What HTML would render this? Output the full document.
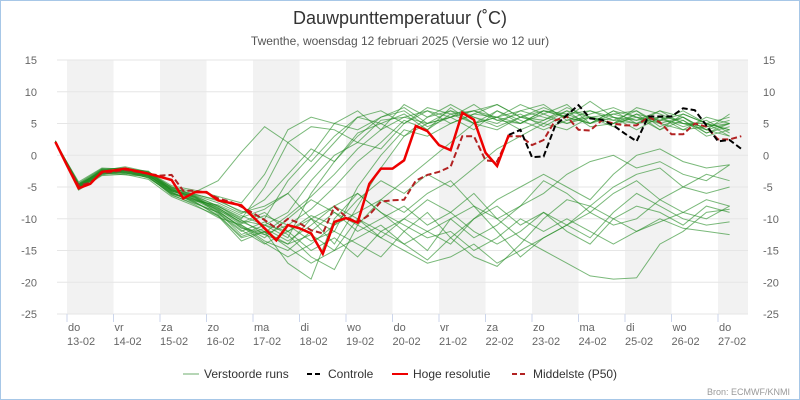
<!DOCTYPE html>
<html><head><meta charset="utf-8"><style>
body{margin:0;background:#fff}
svg{display:block;font-family:"Liberation Sans",sans-serif}
</style></head><body>
<svg id="chart" width="800" height="400" xmlns="http://www.w3.org/2000/svg">
<rect x="0.5" y="0.5" width="799" height="399" fill="#fff" stroke="#a7c7e7"/>
<text x="400" y="24" text-anchor="middle" font-size="18" fill="#333">Dauwpunttemperatuur (˚C)</text>
<text x="400" y="45" text-anchor="middle" font-size="12" fill="#555">Twenthe, woensdag 12 februari 2025 (Versie wo 12 uur)</text>
<g id="bands"></g><g id="grid"></g><g id="axes"></g><g id="series"></g>
<g id="legend">
<g><line x1="183" y1="374" x2="199" y2="374" stroke="#2e8b2e" stroke-opacity="0.7"/><text x="204" y="378" font-size="12" fill="#333">Verstoorde runs</text></g>
<g><line x1="307" y1="374" x2="323" y2="374" stroke="#000" stroke-width="2" stroke-dasharray="5,3"/><text x="328" y="378" font-size="12" fill="#333">Controle</text></g>
<g><line x1="392" y1="374" x2="408" y2="374" stroke="#e00" stroke-width="2"/><text x="413" y="378" font-size="12" fill="#333">Hoge resolutie</text></g>
<g><line x1="512" y1="374" x2="528" y2="374" stroke="#b22222" stroke-width="2" stroke-dasharray="5,3"/><text x="533" y="378" font-size="12" fill="#333">Middelste (P50)</text></g>
</g>
<text x="790" y="395" text-anchor="end" font-size="9" fill="#999">Bron: ECMWF/KNMI</text>
</svg>
<script>
const dayNames=["do","vr","za","zo","ma","di","wo","do","vr","za","zo","ma","di","wo","do"];
const dayDates=["13-02","14-02","15-02","16-02","17-02","18-02","19-02","20-02","21-02","22-02","23-02","24-02","25-02","26-02","27-02"];
const yTicks=[15,10,5,0,-5,-10,-15,-20,-25];
const hiresStartHour=-6, hiresStepHours=6;
const hires=[2.1,-1.6,-5.2,-4.5,-2.6,-2.4,-2.1,-2.5,-2.9,-3.4,-3.9,-6.8,-5.8,-5.8,-7.1,-7.5,-7.9,-9.7,-11.5,-13.4,-11.0,-11.5,-12.3,-15.5,-10.5,-9.9,-10.6,-4.5,-2.1,-2.1,-0.8,4.6,3.8,1.6,0.8,6.7,5.6,0.4,-1.7,3.2];
const control=[null,null,null,null,null,null,null,null,null,null,null,null,null,null,null,null,null,null,null,null,null,null,null,null,null,null,null,null,null,null,null,null,null,null,null,null,null,null,null,3.2,4.0,-0.3,-0.2,4.7,6.3,7.9,5.8,5.6,4.7,3.4,2.2,6.1,6.1,6.1,7.4,7.1,4.7,2.2,2.4,1.0];
const p50=[2.1,-1.5,-4.8,-4.3,-2.8,-2.6,-2.3,-2.6,-2.9,-3.2,-3.1,-5.6,-5.6,-5.9,-6.8,-7.3,-8.1,-9.1,-10.2,-11.5,-10.0,-10.7,-11.8,-12.3,-8.1,-9.7,-10.6,-9.4,-7.3,-7.1,-7.0,-4.0,-3.1,-2.6,-1.8,3.0,3.0,-0.8,-1.0,3.0,3.0,1.6,2.4,5.5,6.1,4.0,3.9,5.5,5.0,4.7,4.7,6.0,5.2,3.3,3.3,5.0,4.5,2.5,2.5,3.0];
const memberStepHours=12;
const members=[
[2.0,-5.2,-2.6,-2.4,-3.2,-5.8,-7.5,-9.0,-12.5,-11.0,-13.0,-6.0,-1.0,3.5,5.0,6.5,4.0,7.5,5.0,6.0,7.0,8.0,5.5,6.0,6.5,7.0,4.5,6.0,4.0,5.0],
[2.2,-4.5,-2.2,-2.0,-3.0,-5.0,-6.5,-8.0,-10.0,-5.0,2.0,4.5,4.0,2.0,5.5,6.0,7.0,5.0,6.5,8.0,6.0,7.5,6.0,5.0,7.0,5.0,6.0,4.5,5.5,3.5],
[2.1,-5.0,-3.0,-2.8,-3.5,-6.0,-7.0,-8.5,-11.0,-13.5,-15.0,-12.0,-9.0,-11.0,-13.0,-10.0,-12.0,-14.0,-10.0,-8.0,-11.0,-9.0,-12.0,-14.0,-10.0,-8.0,-9.0,-11.0,-8.0,-9.0],
[2.0,-4.2,-2.0,-2.2,-2.5,-5.5,-6.2,-7.0,-9.0,-8.0,-6.0,-10.0,-14.0,-8.0,-2.0,3.0,5.0,6.0,4.0,7.0,5.0,6.5,8.0,5.0,6.0,5.5,7.0,5.0,4.0,3.0],
[2.3,-5.5,-3.2,-3.0,-3.8,-6.5,-8.0,-9.5,-13.0,-12.0,-17.0,-19.5,-10.0,-6.0,-9.0,-12.0,-15.0,-10.0,-8.0,-12.0,-16.0,-13.0,-11.0,-9.0,-6.0,-4.0,-7.0,-5.0,-3.0,-4.0],
[2.0,-4.8,-2.4,-1.8,-2.6,-4.8,-5.5,-6.5,-7.5,-3.0,4.0,6.0,5.0,7.0,4.0,8.0,6.0,7.0,5.0,4.0,6.0,5.0,7.0,6.0,4.5,6.5,5.5,7.0,5.0,6.0],
[2.1,-4.6,-2.8,-2.6,-3.3,-5.2,-6.8,-8.8,-11.5,-12.5,-14.0,-10.0,-12.0,-14.0,-16.0,-12.0,-9.0,-13.0,-16.0,-17.5,-14.0,-10.0,-7.0,-8.0,-5.0,-3.0,-2.0,-5.0,-6.0,-5.0],
[2.2,-5.1,-2.3,-2.7,-3.0,-5.9,-7.2,-7.8,-9.5,-11.0,-9.0,-4.0,0.0,2.0,1.0,5.0,7.0,6.0,8.0,5.5,5.0,7.0,6.0,8.5,6.0,4.0,6.0,5.5,3.0,4.0],
[2.0,-4.9,-2.7,-2.3,-2.8,-5.4,-6.6,-9.2,-12.0,-10.5,-12.5,-16.0,-18.0,-11.0,-7.0,-9.0,-6.0,-4.0,-8.0,-10.0,-13.0,-15.0,-17.0,-19.0,-19.5,-19.3,-14.0,-12.0,-9.0,-8.5],
[2.1,-4.4,-2.1,-2.5,-2.7,-5.0,-5.8,-4.0,0.5,4.5,2.0,-1.0,3.0,6.0,5.0,3.0,6.0,8.0,6.0,5.0,7.0,6.0,5.0,6.5,7.5,6.0,5.0,4.0,6.0,5.0],
[2.2,-5.3,-2.9,-2.1,-3.4,-6.2,-7.8,-9.8,-11.0,-13.0,-10.0,-7.0,-9.0,-12.0,-10.0,-8.0,-11.0,-9.0,-6.0,-10.0,-8.0,-4.0,-6.0,-9.0,-11.0,-10.0,-7.0,-9.0,-10.0,-8.0],
[2.0,-4.7,-2.5,-2.9,-3.1,-5.6,-6.9,-8.2,-10.8,-9.5,-11.0,-13.5,-12.0,-5.0,0.0,4.0,3.0,5.0,6.5,6.0,4.0,5.5,7.0,4.5,5.0,6.5,4.0,5.5,3.5,4.5],
[2.1,-5.0,-2.6,-2.2,-2.9,-5.3,-7.0,-8.6,-10.5,-12.0,-14.5,-17.0,-15.0,-10.0,-12.0,-14.0,-16.5,-13.0,-10.0,-7.0,-5.0,-3.0,-5.0,-7.0,-3.0,0.0,1.0,-1.0,-2.0,-1.5],
[2.2,-4.6,-2.4,-2.6,-3.2,-5.7,-6.4,-8.0,-9.8,-8.5,-6.0,-2.0,2.0,6.0,7.0,5.0,7.5,6.5,7.0,6.0,8.0,6.5,5.0,6.0,5.0,7.5,6.5,5.0,4.5,5.5],
[2.0,-5.2,-3.1,-2.4,-3.6,-6.0,-7.4,-9.4,-12.8,-11.5,-13.5,-11.0,-8.0,-6.0,-9.0,-11.0,-13.0,-12.0,-15.0,-13.0,-10.0,-12.0,-10.0,-12.0,-14.0,-12.0,-10.0,-11.5,-12.0,-12.5],
[2.1,-4.8,-2.2,-2.0,-2.6,-5.1,-6.3,-7.5,-9.2,-7.0,-3.0,1.0,-1.0,3.0,6.0,7.0,4.5,6.0,7.0,5.5,6.5,4.5,6.5,7.0,5.5,5.0,7.0,6.0,4.0,6.5],
[2.2,-5.4,-2.8,-3.1,-3.3,-6.3,-7.6,-9.0,-11.8,-14.0,-12.0,-15.0,-13.0,-16.0,-12.0,-10.0,-7.0,-9.0,-12.0,-14.0,-12.0,-9.0,-11.0,-13.0,-9.0,-6.0,-8.0,-10.0,-11.0,-10.5],
[2.0,-4.5,-2.6,-2.3,-3.0,-5.5,-6.7,-8.4,-10.2,-12.5,-11.0,-8.5,-5.0,-1.0,2.0,5.5,4.0,6.5,5.0,7.0,5.5,4.0,5.5,7.0,6.0,5.0,5.5,6.5,5.0,3.0],
[2.1,-5.0,-2.9,-2.7,-3.5,-5.8,-7.3,-9.6,-13.5,-12.0,-14.0,-12.5,-15.0,-13.0,-11.0,-14.0,-12.0,-10.0,-13.0,-11.0,-8.0,-6.0,-3.0,-1.0,0.0,-2.0,-1.0,-3.0,-4.0,-1.5],
[2.2,-4.9,-2.3,-2.4,-2.8,-5.2,-6.1,-7.2,-8.8,-10.0,-4.0,0.0,5.0,4.0,6.0,7.5,5.0,6.0,7.0,8.0,6.0,7.0,6.5,5.0,7.0,6.0,4.0,6.5,5.0,4.0],
[2.0,-5.1,-2.7,-2.5,-3.1,-6.1,-7.1,-8.9,-11.2,-13.8,-16.0,-14.0,-11.0,-9.0,-7.0,-4.0,-1.0,2.0,5.0,6.0,5.0,7.0,6.0,5.0,6.5,5.5,6.0,4.0,4.5,5.0],
[2.1,-4.7,-2.5,-2.1,-2.7,-5.6,-6.6,-8.3,-10.6,-9.0,-12.0,-10.0,-8.0,-10.0,-13.0,-15.0,-17.0,-16.0,-14.0,-17.0,-15.0,-13.0,-11.0,-8.0,-10.0,-12.0,-10.5,-9.0,-7.0,-8.0],
[2.2,-5.0,-2.4,-2.8,-3.3,-5.4,-6.5,-8.7,-11.4,-12.2,-9.5,-6.5,-3.0,1.0,4.0,6.0,5.0,7.0,6.0,4.5,6.0,5.5,7.5,6.0,5.5,7.0,5.0,6.0,3.5,5.0],
[2.0,-4.8,-2.6,-2.4,-3.0,-5.6,-7.0,-8.0,-10.3,-11.0,-12.0,-9.5,-11.0,-7.0,-4.0,-6.0,-3.0,-5.0,-2.0,1.0,3.0,5.0,4.0,6.0,5.0,6.0,5.5,5.0,5.0,4.0]
];
const NS="http://www.w3.org/2000/svg";
const X0=57,X1=748,Y0=60,Y1=314,DAY0=67,DAYW=46.5;
const xH=h=>DAY0+h/24*DAYW;
const yV=v=>Y1-(v-(-25))/(40)*(Y1-Y0);
function mk(tag,parent,attrs){const e=document.createElementNS(NS,tag);for(const k in attrs)e.setAttribute(k,attrs[k]);parent.appendChild(e);return e;}
const bands=document.getElementById('bands'),grid=document.getElementById('grid'),axes=document.getElementById('axes'),ser=document.getElementById('series');
dayNames.forEach((d,i)=>{
  const x=xH(i*24);
  if(i%2===0){const r=mk('rect',bands,{x:x,y:Y0,width:Math.min(DAYW,X1-x),height:Y1-Y0,fill:'#f2f2f2'});
  
  }
  const t=mk('line',axes,{x1:x,y1:Y1,x2:x,y2:Y1+8,stroke:'#ccd6eb'});
  
  
  const a=mk('text',axes,{x:x+1,y:331,'font-size':11,fill:'#666'});a.textContent=d;
  
  
  const b=mk('text',axes,{x:x,y:345,'font-size':11,fill:'#666'});b.textContent=dayDates[i];
  
  
});
yTicks.forEach(v=>{
  const y=yV(v);
  const g=mk('line',grid,{x1:X0,y1:y,x2:X1,y2:y,stroke:'#e6e6e6'});
  
  
  const l=mk('text',axes,{x:37,y:y+4,'text-anchor':'end','font-size':11,fill:'#666'});l.textContent=v;
  
  
  const r=mk('text',axes,{x:763,y:y+4,'font-size':11,fill:'#666'});r.textContent=v;
  
  
});
function pathFor(vals,start,step){let d='',pen=false;vals.forEach((v,i)=>{if(v===null){pen=false;return;}d+=(pen?'L':'M')+xH(start+i*step).toFixed(1)+','+yV(v).toFixed(1);pen=true;});return d;}
members.forEach((m,i)=>{
  const p=mk('path',ser,{d:pathFor(m,hiresStartHour,memberStepHours),fill:'none',stroke:'#228b22','stroke-opacity':0.6,'stroke-width':1});
  
  
});
const pp=mk('path',ser,{d:pathFor(p50,hiresStartHour,hiresStepHours),fill:'none',stroke:'#b22222','stroke-width':2,'stroke-dasharray':'6,3'});


const cp=mk('path',ser,{d:pathFor(control,hiresStartHour,hiresStepHours),fill:'none',stroke:'#000','stroke-width':2,'stroke-dasharray':'6,3'});


const hp=mk('path',ser,{d:pathFor(hires,hiresStartHour,hiresStepHours),fill:'none',stroke:'#e00','stroke-width':2.5});


</script>
</body></html>
